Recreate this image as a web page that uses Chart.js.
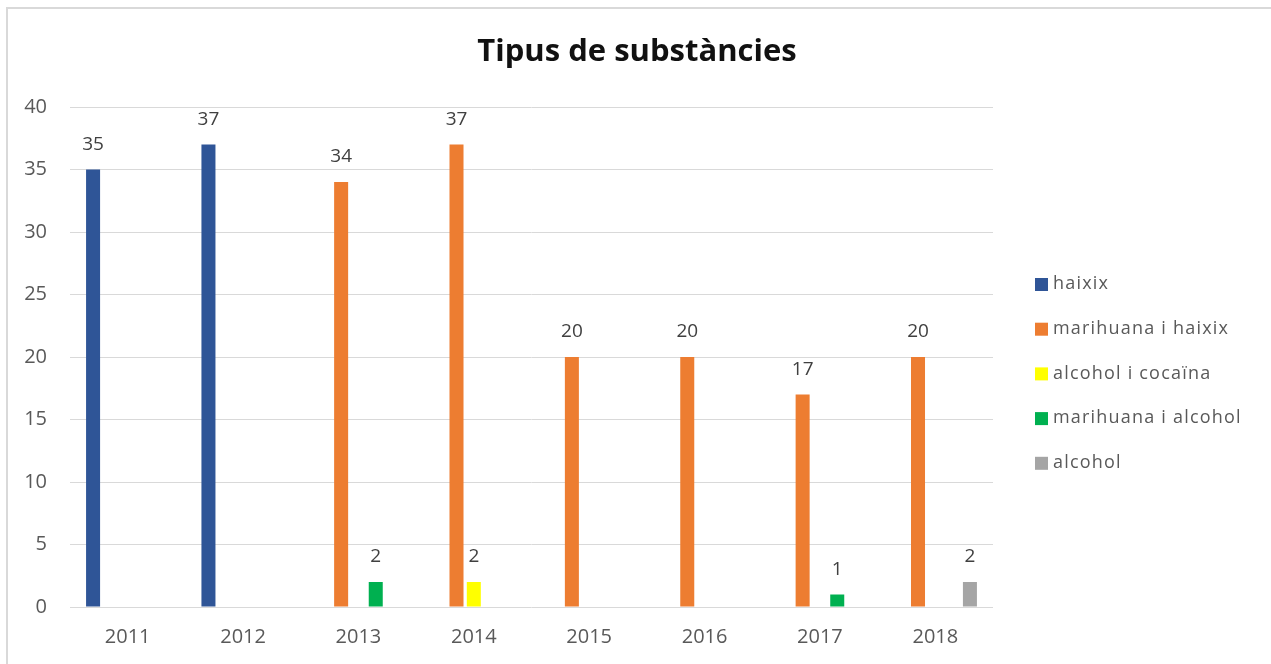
<!DOCTYPE html>
<html>
<head>
<meta charset="utf-8">
<script src="https://cdn.jsdelivr.net/npm/chart.js@4/dist/chart.umd.min.js"></script>
<style>
  html, body { margin: 0; padding: 0; background: #ffffff; }
  #wrap { width: 1271px; height: 664px; position: relative; }
</style>
</head>
<body>
<div id="wrap"><canvas id="c" width="1271" height="664"></canvas></div>
<script>
const chartTitle = "Tipus de substàncies";
const categories = ["2011", "2012", "2013", "2014", "2015", "2016", "2017", "2018"];
const seriesNames = ["haixix", "marihuana i haixix", "alcohol i cocaïna", "marihuana i alcohol", "alcohol"];
const haixix = [35, 37, null, null, null, null, null, null];
const marihuanaHaixix = [null, null, 34, 37, 20, 20, 17, 20];
const alcoholCocaina = [null, null, null, 2, null, null, null, null];
const marihuanaAlcohol = [null, null, 2, null, null, null, 1, null];
const alcohol = [null, null, null, null, null, null, null, 2];
const seriesColors = ["#2F5597", "#ED7D31", "#FFFF00", "#00B050", "#A5A5A5"];
const yTicks = [0, 5, 10, 15, 20, 25, 30, 35, 40];

const seriesValues = [haixix, marihuanaHaixix, alcoholCocaina, marihuanaAlcohol, alcohol];
const FONT = "'Open Sans', 'Noto Sans', sans-serif";

const datasets = seriesNames.map((name, i) => ({
  label: name,
  data: seriesValues[i],
  backgroundColor: seriesColors[i],
  borderWidth: 0,
  categoryPercentage: 0.75,
  barPercentage: 0.81
}));

const decorPlugin = {
  id: 'decor',
  beforeDraw(chart) {
    const ctx = chart.ctx;
    ctx.save();
    ctx.strokeStyle = '#d9d9d9';
    ctx.lineWidth = 2;
    ctx.beginPath();
    ctx.moveTo(7, 664);
    ctx.lineTo(7, 8);
    ctx.lineTo(1271, 8);
    ctx.stroke();
    ctx.restore();
  },
  afterDatasetsDraw(chart) {
    const ctx = chart.ctx;
    ctx.save();
    ctx.font = "19px " + FONT;
    ctx.fillStyle = '#404040';
    ctx.textAlign = 'center';
    ctx.textBaseline = 'middle';
    chart.data.datasets.forEach((ds, di) => {
      const meta = chart.getDatasetMeta(di);
      meta.data.forEach((bar, i) => {
        const v = ds.data[i];
        if (v === null || v === undefined) return;
        ctx.fillText(String(v), bar.x, bar.y - 25);
      });
    });
    ctx.restore();
  },
  afterDraw(chart) {
    const ctx = chart.ctx;
    ctx.save();
    // title
    ctx.font = "bold 31px " + FONT;
    ctx.fillStyle = '#111111';
    ctx.textAlign = 'center';
    ctx.textBaseline = 'middle';
    ctx.fillText(chartTitle, 637, 52);
    // legend
    ctx.font = "18px " + FONT;
    if ('letterSpacing' in ctx) ctx.letterSpacing = '1.2px';
    ctx.textBaseline = 'middle';
    ctx.textAlign = 'left';
    chart.data.datasets.forEach((ds, i) => {
      const cy = 284 + i * 44.7;
      ctx.fillStyle = ds.backgroundColor;
      ctx.fillRect(1035, cy - 6, 13, 13);
      ctx.fillStyle = '#595959';
      ctx.fillText(ds.label, 1053, cy);
    });
    ctx.restore();
  }
};

new Chart(document.getElementById('c'), {
  type: 'bar',
  data: { labels: categories, datasets },
  options: {
    responsive: false,
    animation: false,
    layout: { padding: { left: 0, right: 278, top: 107, bottom: 0 } },
    plugins: {
      legend: { display: false },
      tooltip: { enabled: false },
      title: { display: false }
    },
    scales: {
      x: {
        grid: { display: false, drawTicks: false },
        border: { display: false },
        ticks: { color: '#595959', font: { family: FONT, size: 20 }, padding: 18, maxRotation: 0 },
        afterFit(s) { s.height = 57; }
      },
      y: {
        min: 0, max: 40,
        grid: { color: '#d9d9d9', lineWidth: 1, drawTicks: false },
        border: { display: false },
        afterBuildTicks(s) { s.ticks = yTicks.map(v => ({ value: v })); },
        ticks: { color: '#595959', font: { family: FONT, size: 20 }, padding: 23 },
        afterFit(s) { s.width = 70; }
      }
    }
  },
  plugins: [decorPlugin]
});
</script>
</body>
</html>
